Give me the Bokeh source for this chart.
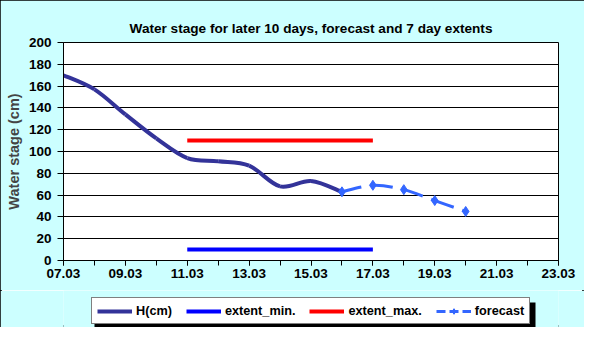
from bokeh.plotting import figure
from bokeh.layouts import column
from bokeh.models import Legend, LegendItem, FixedTicker, Range1d, BoxAnnotation
from bokeh.embed import file_html
from bokeh.resources import INLINE

# ---- data ----
h_days = [7, 8, 9, 10, 11, 12, 13, 14, 15, 16]
h_cm = [170, 157, 134, 112, 94, 91, 87, 68, 73, 63]
ext_days = [11, 17]
ext_min = [10, 10]
ext_max = [110, 110]
fc_days = [16, 17, 18, 19, 20]
fc_cm = [63, 69, 65, 55, 45]
tick_days = [7, 9, 11, 13, 15, 17, 19, 21, 23]
tick_labels = ["07.03", "09.03", "11.03", "13.03", "15.03", "17.03", "19.03", "21.03", "23.03"]
y_ticks = [0, 20, 40, 60, 80, 100, 120, 140, 160, 180, 200]
series_names = ["H(cm)", "extent_min.", "extent_max.", "forecast"]


def smooth_segments(xs, ys):
    """Bezier control points (Excel-style smoothing) for consecutive points."""
    n = len(xs)
    seg = dict(x0=[], y0=[], x1=[], y1=[], cx0=[], cy0=[], cx1=[], cy1=[])
    for i in range(n - 1):
        xp, yp = (xs[i - 1], ys[i - 1]) if i > 0 else (xs[i], ys[i])
        xn, yn = (xs[i + 2], ys[i + 2]) if i + 2 < n else (xs[i + 1], ys[i + 1])
        seg["x0"].append(xs[i]); seg["y0"].append(ys[i])
        seg["x1"].append(xs[i + 1]); seg["y1"].append(ys[i + 1])
        seg["cx0"].append(xs[i] + (xs[i + 1] - xp) / 6)
        seg["cy0"].append(ys[i] + (ys[i + 1] - yp) / 6)
        seg["cx1"].append(xs[i + 1] - (xn - xs[i]) / 6)
        seg["cy1"].append(ys[i + 1] - (yn - ys[i]) / 6)
    return seg


FONT = "Liberation Sans"
NAVY = "#333399"
BLUE = "#0000FF"
RED = "#FF0000"
FC = "#3366FF"
BG = "#CCFFFF"

p = figure(width=584, height=290, output_backend="svg", toolbar_location=None,
           x_range=Range1d(7, 23), y_range=Range1d(0, 200),
           title="Water stage for later 10 days, forecast and 7 day extents")
p.border_fill_color = BG
p.background_fill_color = "white"
p.outline_line_color = "black"
p.outline_line_width = 1
p.min_border_left = 63
p.min_border_right = 26
p.min_border_top = 42
p.min_border_bottom = 30

p.title.align = "center"
p.title.text_font = FONT
p.title.text_font_size = "13.6px"
p.title.text_font_style = "bold"
p.title.text_color = "black"
p.title.standoff = 13

# axes
p.xaxis.ticker = FixedTicker(ticks=tick_days, minor_ticks=list(range(7, 24)))
p.xaxis.major_label_overrides = {d: l for d, l in zip(tick_days, tick_labels)}
p.yaxis.ticker = FixedTicker(ticks=y_ticks)
for ax in (p.xaxis, p.yaxis):
    ax.major_label_text_font = FONT
    ax.major_label_text_font_size = "13.5px"
    ax.major_label_text_font_style = "bold"
    ax.major_label_text_color = "black"
    ax.axis_line_color = "black"
    ax.major_tick_line_color = "black"
    ax.minor_tick_line_color = "black"
    ax.major_tick_in = 0
    ax.major_tick_out = 5
    ax.minor_tick_in = 0
    ax.minor_tick_out = 5
p.yaxis.minor_tick_line_color = None
p.yaxis.major_tick_out = 6
p.yaxis.axis_label = "Water stage (cm)"
p.yaxis.axis_label_text_font = FONT
p.yaxis.axis_label_text_font_size = "14.5px"
p.yaxis.axis_label_text_font_style = "bold"
p.yaxis.axis_label_standoff = 4
p.yaxis.major_label_standoff = 6
p.xaxis.major_label_standoff = 3

p.xgrid.grid_line_color = None
p.ygrid.grid_line_color = "black"
p.ygrid.grid_line_width = 1

# extents
p.line(ext_days, ext_min, line_color=BLUE, line_width=4)
p.line(ext_days, ext_max, line_color=RED, line_width=4)

# observed stage (smoothed)
hs = smooth_segments(h_days, h_cm)
p.bezier(source=hs, x0="x0", y0="y0", x1="x1", y1="y1", cx0="cx0", cy0="cy0",
         cx1="cx1", cy1="cy1", line_color=NAVY, line_width=4)

# forecast (smoothed, dashed)
fs = smooth_segments(fc_days, fc_cm)
p.bezier(source=fs, x0="x0", y0="y0", x1="x1", y1="y1", cx0="cx0", cy0="cy0",
         cx1="cx1", cy1="cy1", line_color=FC, line_width=3, line_dash="20 9")
p.scatter(fc_days, fc_cm, marker="diamond", size=10, fill_color=FC, line_color=FC)

# ---- legend strip (separate figure below the chart) ----
lg = figure(width=584, height=37, output_backend="svg", toolbar_location=None,
            x_range=Range1d(0, 1), y_range=Range1d(0, 1),
            x_axis_location=None, y_axis_location=None)
lg.grid.visible = False
lg.outline_line_color = None
lg.background_fill_color = BG
lg.border_fill_color = BG
lg.min_border = 0

l_h = lg.line([-10, -9], [-10, -10], line_color=NAVY, line_width=4)
l_min = lg.line([-10, -9], [-10, -10], line_color=BLUE, line_width=4)
l_max = lg.line([-10, -9], [-10, -10], line_color=RED, line_width=4)
l_fc = lg.line([-10, -9], [-10, -10], line_color=FC, line_width=3, line_dash="9 4")
s_fc = lg.scatter([-10], [-10], marker="diamond", size=8, fill_color=FC, line_color=FC)
rends = [[l_h], [l_min], [l_max], [l_fc, s_fc]]

LEG_X, LEG_Y, LEG_W, LEG_H = 28, 3, 441, 25

# drop shadow behind the legend box
lg.add_layout(BoxAnnotation(left=LEG_X + 3, right=LEG_X + 3 + LEG_W,
                            bottom=LEG_Y - 3, top=LEG_Y - 3 + LEG_H,
                            left_units="screen", right_units="screen",
                            bottom_units="screen", top_units="screen",
                            fill_color="black", fill_alpha=1, line_color=None))

legend = Legend(items=[LegendItem(label=n, renderers=r) for n, r in zip(series_names, rends)],
                orientation="horizontal", location=(LEG_X, LEG_Y))
legend.label_text_font = FONT
legend.label_text_font_size = "12.7px"
legend.label_text_font_style = "bold"
legend.label_text_color = "black"
legend.border_line_color = "black"
legend.border_line_width = 1
legend.background_fill_color = "white"
legend.background_fill_alpha = 1
legend.glyph_width = 35
legend.glyph_height = 14
legend.label_height = 15
legend.spacing = 14
legend.padding = 5
legend.margin = 0
legend.label_standoff = 4
lg.add_layout(legend)

layout = column(p, lg, spacing=0, styles={"outline": "2px solid black", "outline-offset": "-2px"})
open("out.html", "w").write(file_html(layout, INLINE))
